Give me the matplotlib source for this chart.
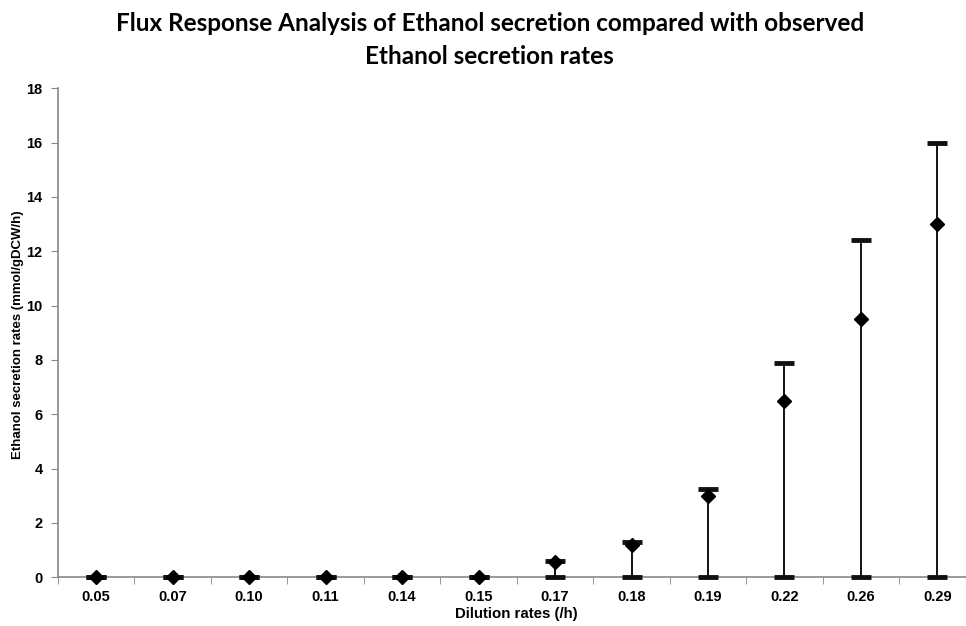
import numpy as np
import matplotlib.pyplot as plt

# dilution rates and ethanol secretion (observed + flux range)
dilution = ["0.05", "0.07", "0.10", "0.11", "0.14", "0.15",
            "0.17", "0.18", "0.19", "0.22", "0.26", "0.29"]
observed = [0, 0, 0, 0, 0, 0, 0.55, 1.2, 3.0, 6.5, 9.5, 13.0]
flux_min = [0, 0, 0, 0, 0, 0, 0, 0, 0, 0, 0, 0]
flux_max = [0, 0, 0, 0, 0, 0, 0.6, 1.3, 3.25, 7.9, 12.4, 16.0]

x = np.arange(len(dilution))
obs = np.array(observed)
err_lo = obs - np.array(flux_min)
err_hi = np.array(flux_max) - obs

fig = plt.figure(figsize=(9.66, 6.26), dpi=100)
ax = fig.add_axes([0.060, 0.078, 0.95, 0.781])

eb = ax.errorbar(x, obs, yerr=[err_lo, err_hi], fmt='none', ecolor='#111111',
                 elinewidth=1.3, capsize=7.5, capthick=3.5, zorder=4)
for art in eb.lines[1] + eb.lines[2]:
    art.set_clip_on(False)
    art.set_color('black')
ax.plot(x, obs, linestyle='none', marker='D', markersize=7.5,
        color='black', zorder=5, clip_on=False)

ax.set_xlim(-0.5, len(dilution) - 0.5)
ax.set_ylim(0, 18)
ax.set_yticks(np.arange(0, 19, 2))
ax.set_xticks(x)
ax.set_xticklabels(dilution)
ax.set_xticks(np.arange(-0.5, len(dilution), 1), minor=True)
ax.tick_params(axis='x', which='major', length=0, pad=9)
ax.tick_params(axis='x', which='minor', length=5, color='#888888', direction='out')
ax.tick_params(axis='y', length=5, color='#888888', direction='out', pad=6)

for lab in ax.get_xticklabels() + ax.get_yticklabels():
    lab.set_fontweight('bold')
    lab.set_fontsize(10.5)
    lab.set_family('Liberation Sans')

for s in ['top', 'right']:
    ax.spines[s].set_visible(False)
for s in ['left', 'bottom']:
    ax.spines[s].set_color('#888888')
    ax.spines[s].set_linewidth(1.2)
    ax.spines[s].set_zorder(1)

ax.set_xlabel("Dilution rates (/h)", fontsize=10.8, fontweight='bold',
              family='Liberation Sans')
ax.xaxis.set_label_coords(0.50, -0.062)
ax.set_ylabel("Ethanol secretion rates (mmol/gDCW/h)", fontsize=9.5,
              fontweight='bold', family='Liberation Sans')
ax.yaxis.set_label_coords(-0.037, 0.495)

fig.text(0.507, 0.936, "Flux Response Analysis of Ethanol secretion compared with observed\nEthanol secretion rates",
         ha='center', va='center', fontsize=17.5, fontweight='bold',
         family='Lato', linespacing=1.5)

fig.savefig("out.png", dpi=100)
